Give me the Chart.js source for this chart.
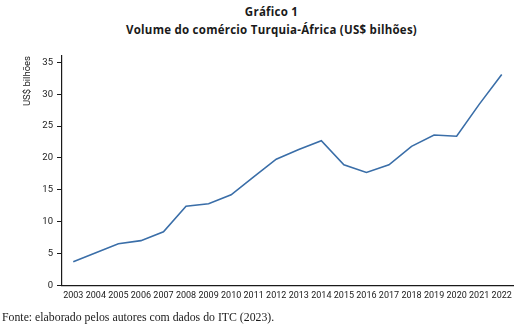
<!DOCTYPE html>
<html lang="pt-BR">
<head>
<meta charset="utf-8">
<title>Volume do comércio Turquia-África</title>
<script src="https://cdn.jsdelivr.net/npm/chart.js@4/dist/chart.umd.min.js"></script>
<style>
  html, body { margin: 0; padding: 0; background: #fff; }
  #wrap { position: relative; width: 519px; height: 327px; overflow: hidden; }
  #grafico { position: absolute; left: 0; top: 0; }
  .titulo {
    position: absolute; left: 24px; width: 495px; text-align: center;
    font-family: "Open Sans", sans-serif; font-weight: 700; font-size: 11.5px;
    color: #1a1a1a; letter-spacing: 0.25px;
  }
  #fonte {
    position: absolute; left: 2px; top: 310px;
    font-family: "Liberation Serif", "DejaVu Serif", serif; font-size: 11.8px; color: #1a1a1a;
  }
</style>
</head>
<body>
<div id="wrap">
  <div class="titulo" style="top:4px">Gráfico 1</div>
  <div class="titulo" style="top:22px">Volume do comércio Turquia-África (US$ bilhões)</div>
  <canvas id="grafico" width="519" height="327"></canvas>
  <div id="fonte">Fonte: elaborado pelos autores com dados do ITC (2023).</div>
</div>
<script>
// ========================
// Dados
// ========================
const anos = ['2003', '2004', '2005', '2006', '2007', '2008', '2009', '2010', '2011', '2012',
  '2013', '2014', '2015', '2016', '2017', '2018', '2019', '2020', '2021', '2022'];
const volume = [3.7, 5.1, 6.5, 7.0, 8.4, 12.4, 12.8, 14.2, 17.0, 19.8,
  21.3, 22.7, 18.9, 17.7, 18.9, 21.8, 23.6, 23.4, 28.4, 33.1];
const ticksY = [0, 5, 10, 15, 20, 25, 30, 35];

document.addEventListener('DOMContentLoaded', () => {
  const canvas = document.getElementById('grafico');
  const corEixo = '#1a1a1a';
  const fonteY = { family: 'Roboto, sans-serif', size: 9.5 };
  const fonteX = { family: 'Roboto, sans-serif', size: 9 };

  new Chart(canvas, {
    type: 'line',
    data: {
      labels: anos,
      datasets: [{
        data: volume,
        borderColor: '#3a6ea8',
        borderWidth: 1.6,
        pointRadius: 0,
        tension: 0,
        fill: false
      }]
    },
    options: {
      responsive: false,
      animation: false,
      layout: { padding: { top: 56, right: 6, bottom: 21, left: 0 } },
      plugins: { legend: { display: false }, tooltip: { enabled: false } },
      scales: {
        x: {
          type: 'category',
          offset: true,
          grid: { display: false, drawTicks: false },
          border: { color: corEixo, width: 1.2 },
          ticks: { color: corEixo, font: fonteX, maxRotation: 0, autoSkip: false, padding: 5 }
        },
        y: {
          min: 0,
          max: 36,
          // só os rótulos de 5 em 5, o eixo continua até 36
          afterBuildTicks: s => { s.ticks = ticksY.map(v => ({ value: v })); },
          afterFit: s => { s.width = 62; },
          grid: { drawOnChartArea: false, tickLength: 5, color: corEixo },
          border: { color: corEixo, width: 1.2 },
          ticks: { color: corEixo, font: fonteY, padding: 4 },
          title: {
            display: true,
            text: 'US$ bilhões',
            align: 'end',
            color: corEixo,
            font: fonteY,
            padding: { top: 22, bottom: 0 }
          }
        }
      }
    }
  });
});
</script>
</body>
</html>
